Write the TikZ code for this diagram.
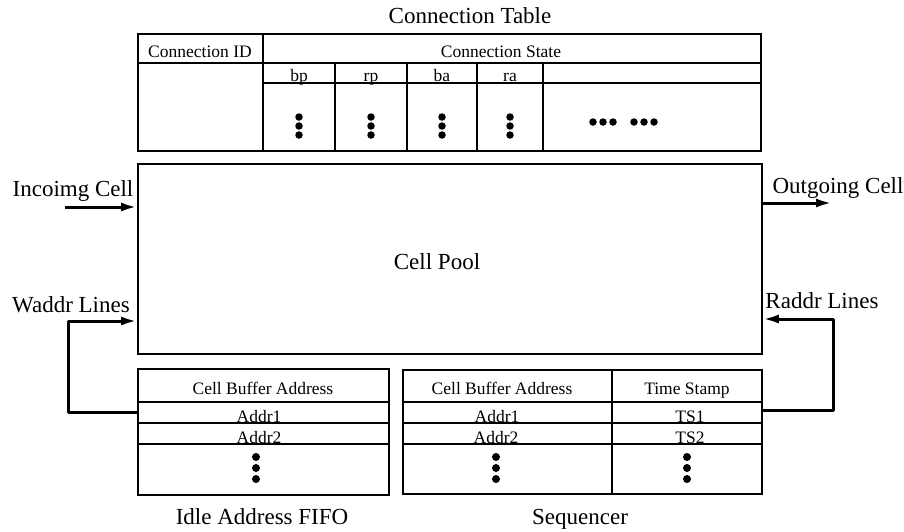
\documentclass[tikz,border=0pt]{standalone}
\usepackage{fontspec}
\setmainfont{Liberation Serif}
\usetikzlibrary{arrows.meta}
\begin{document}
\begin{tikzpicture}[x=1pt,y=-1pt,
  big/.style={font=\fontsize{23}{27}\selectfont, inner sep=0pt, anchor=base},
  small/.style={font=\fontsize{17.5}{20}\selectfont, inner sep=0pt, anchor=base},
  frame/.style={draw, line width=1.8pt, anchor=north west, inner sep=0pt},
  grid/.style={line width=1.2pt},
  feed/.style={line width=3pt, line join=round, -{Latex[length=16pt,width=9pt]}},
  dot/.style={circle, fill=black, inner sep=0pt, minimum size=8pt},
  sdot/.style={circle, fill=black, inner sep=0pt, minimum size=7.5pt},
]
\useasboundingbox (0,0) rectangle (904,531);

% ---------- Connection table ----------
\node[big] (cttitle) at (470,23) {Connection Table};
\node[frame, minimum width=623pt, minimum height=117pt] (ct) at (137,33) {};
\draw[grid] (137,63) -- (760,63);
\draw[grid] (263,33) -- (263,150);
\draw[grid] (263,83) -- (760,83);
\foreach \xx in {335,407,477,543} \draw[grid] (\xx,63) -- (\xx,150);
\node[small] (cid) at (200,57) {Connection ID};
\node[small] (cst) at (501,57) {Connection State};
\node[small] (bp) at (299,81) {bp};
\node[small] (rp) at (371,81) {rp};
\node[small] (ba) at (442,81) {ba};
\node[small] (ra) at (510,81) {ra};
\foreach \xx in {299,371,442,510}
  \foreach \yy in {117,126,135}
    \node[sdot] at (\xx,\yy) {};
\foreach \xx in {593,603,613,634,644,654}
  \node[sdot] at (\xx,122) {};

% ---------- Cell pool ----------
\node[frame, minimum width=624pt, minimum height=190pt] (pool) at (137,163) {};
\node[big] (poollbl) at (437,269) {Cell Pool};

% ---------- Idle address FIFO ----------
\node[frame, minimum width=251pt, minimum height=126pt] (idle) at (137,368) {};
\foreach \yy in {402,423,444} \draw[grid] (137,\yy) -- (388,\yy);
\node[small] (ih) at (263,394) {Cell Buffer Address};
\node[small] (ia1) at (259,422) {Addr1};
\node[small] (ia2) at (259,443) {Addr2};
\foreach \yy in {457,468,479} \node[dot] at (256,\yy) {};
\node[big] (idlelbl) at (262,524) {Idle Address FIFO};

% ---------- Sequencer ----------
\node[frame, minimum width=359pt, minimum height=124pt] (seq) at (402,369) {};
\foreach \yy in {402,423,444} \draw[grid] (402,\yy) -- (761,\yy);
\draw[grid] (612,369) -- (612,493);
\node[small] (sh) at (502,394) {Cell Buffer Address};
\node[small] (sts) at (687,394) {Time Stamp};
\node[small] (sa1) at (497,422) {Addr1};
\node[small] (sa2) at (496,443) {Addr2};
\node[small] (st1) at (690,422) {TS1};
\node[small] (st2) at (690,443) {TS2};
\foreach \yy in {457,468,479} {
  \node[dot] at (496,\yy) {};
  \node[dot] at (687,\yy) {};
}
\node[big] (seqlbl) at (580,524) {Sequencer};

% ---------- Connectors ----------
\node[big] (inlbl) at (73,196) {Incoimg Cell};
\coordinate (inS) at (65,207);
\draw[feed] (inS) -- (inS -| pool.west);

\node[big] (outlbl) at (838,193) {Outgoing Cell};
\coordinate (outE) at (832,203);
\draw[feed] (pool.east |- outE) -- (outE);

\node[big] (wlbl) at (71,312) {Waddr Lines};
\coordinate (wlow) at (68,412);
\coordinate (wup) at (68,321);
\draw[feed] (idle.west |- wlow) -- (wlow) -- (wup) -- (wup -| pool.west);

\node[big] (rlbl) at (822,308) {Raddr Lines};
\coordinate (rlow) at (833,410);
\coordinate (rup) at (833,319);
\draw[feed] (seq.east |- rlow) -- (rlow) -- (rup) -- (rup -| pool.east);
\end{tikzpicture}
\end{document}
